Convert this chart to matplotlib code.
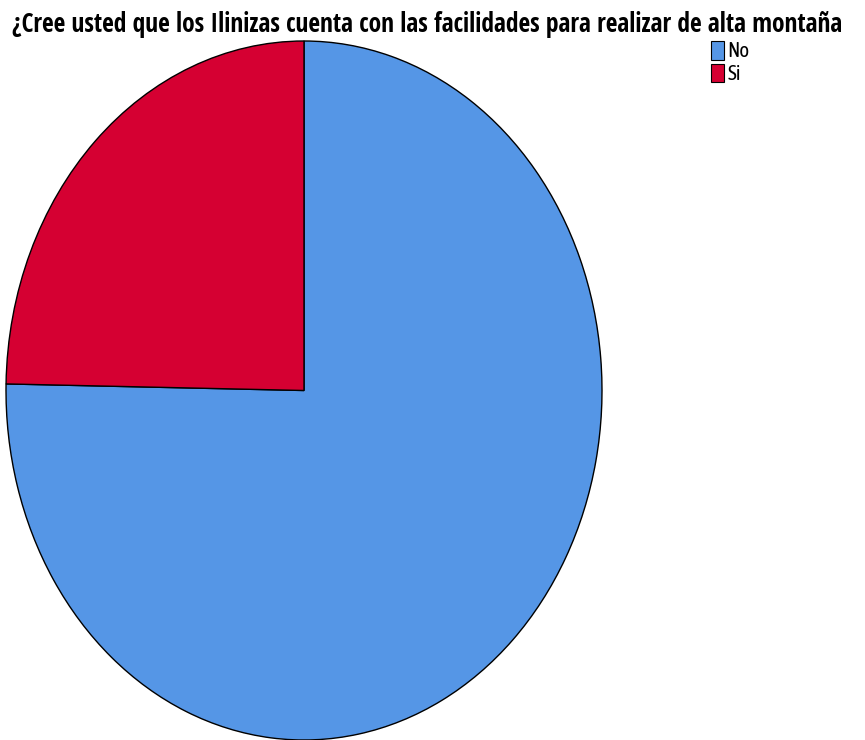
import matplotlib.pyplot as plt
from matplotlib.patches import Patch

# Datos del gráfico
categorias = ["No", "Si"]
porcentajes = [75.3, 24.7]
colores = ["#5596E6", "#D50032"]
titulo = "¿Cree usted que los Ilinizas cuenta con las facilidades para realizar de alta montaña"

plt.rcParams['font.family'] = ['Open Sans Condensed', 'DejaVu Sans']

fig = plt.figure(figsize=(8.65, 7.4), dpi=100)
ax = fig.add_axes([6 / 865, 0.0, 596 / 865, 699 / 740])

wedges, _ = ax.pie(porcentajes, colors=colores, startangle=90, counterclock=False,
                   wedgeprops=dict(edgecolor="black", linewidth=1.0))
for w in wedges:
    w.set_clip_on(False)
ax.set_aspect('auto')
ax.set_xlim(-1, 1)
ax.set_ylim(-1, 1)
ax.axis('off')

fig.text(12 / 865, 1 - 32 / 740, titulo, ha='left', va='baseline',
         fontsize=18.4, fontweight='bold')

handles = [Patch(facecolor=c, edgecolor="black", linewidth=0.8) for c in colores]
fig.legend(handles, categorias, loc='upper left', bbox_to_anchor=(711 / 865, 1 - 41 / 740),
           frameon=False, handlelength=0.6, handleheight=1.0, handletextpad=0.2,
           labelspacing=0.1, borderaxespad=0, borderpad=0,
           prop=dict(family=['Asap Condensed', 'DejaVu Sans'], size=15, weight='normal'))

fig.savefig("out.png", dpi=100)
